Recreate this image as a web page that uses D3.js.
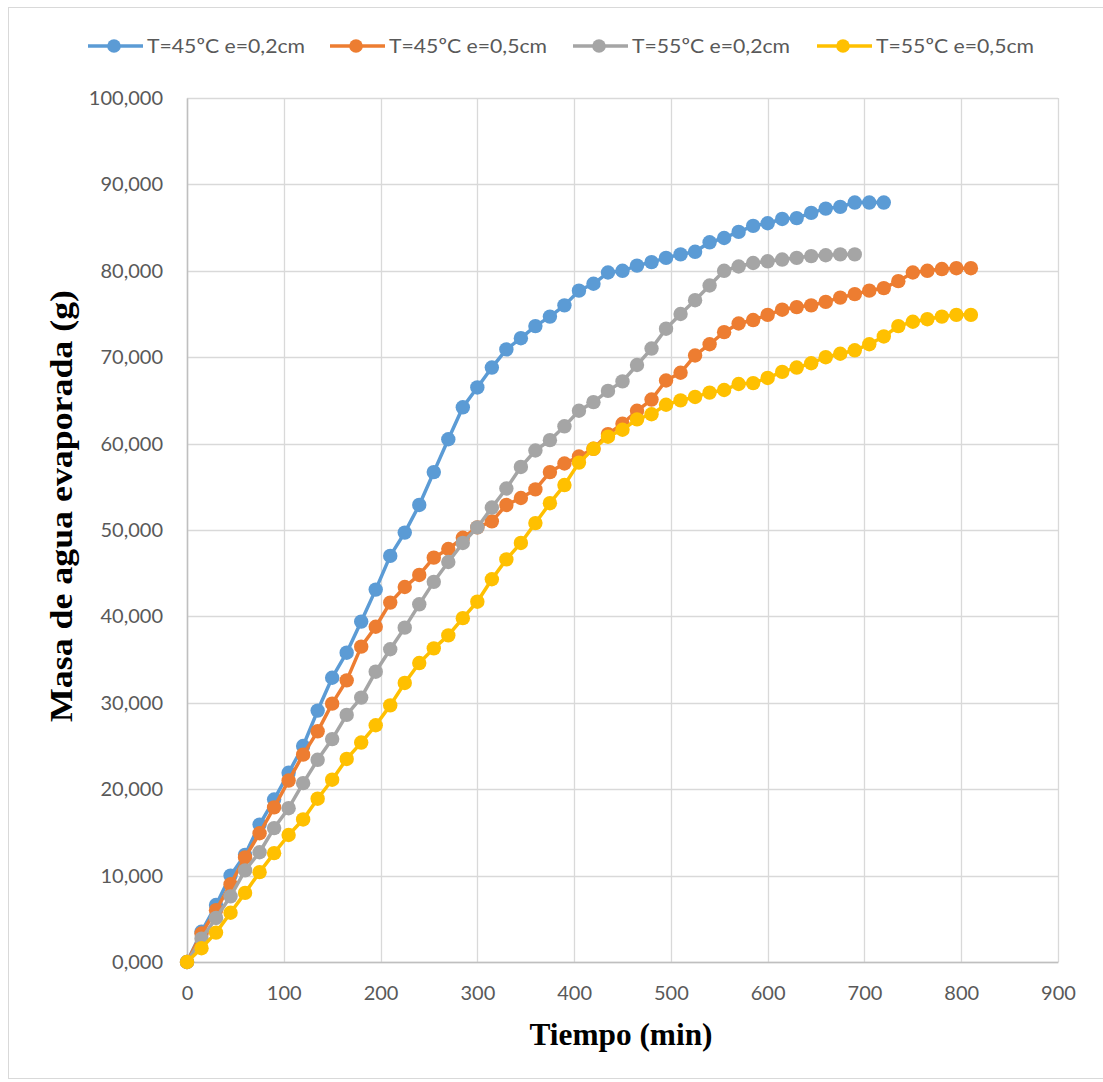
<!DOCTYPE html>
<html>
<head>
<meta charset="utf-8">
<script src="https://cdn.jsdelivr.net/npm/d3@7"></script>
<style>
  html, body { margin: 0; padding: 0; background: #fff; }
  svg { display: block; }
</style>
</head>
<body>
<svg id="chart" width="1103" height="1082"></svg>
<script>
// ---- Data ----
const seriesNames = ["T=45ºC e=0,2cm", "T=45ºC e=0,5cm", "T=55ºC e=0,2cm", "T=55ºC e=0,5cm"];
const seriesColors = ["#5B9BD5", "#ED7D31", "#A5A5A5", "#FFC000"];
const timeStep = 15; // min between readings
const blue = [0, 3.5, 6.6, 10.0, 12.4, 15.9, 18.8, 21.9, 25.0, 29.1, 32.9, 35.8, 39.4, 43.1, 47.0, 49.7, 52.9, 56.7, 60.5, 64.2, 66.5, 68.8, 70.9, 72.2, 73.6, 74.7, 76.0, 77.7, 78.5, 79.8, 80.0, 80.6, 81.0, 81.5, 81.9, 82.2, 83.3, 83.8, 84.5, 85.2, 85.5, 86.0, 86.1, 86.7, 87.2, 87.4, 87.9, 87.9, 87.9];
const orange = [0, 3.3, 6.0, 9.0, 12.1, 14.9, 17.9, 21.0, 24.0, 26.7, 29.9, 32.6, 36.5, 38.8, 41.6, 43.4, 44.8, 46.8, 47.8, 49.1, 50.3, 51.0, 52.9, 53.7, 54.7, 56.7, 57.7, 58.5, 59.4, 61.1, 62.3, 63.8, 65.1, 67.3, 68.2, 70.2, 71.5, 72.9, 73.9, 74.3, 74.9, 75.5, 75.8, 76.0, 76.4, 76.9, 77.3, 77.7, 78.0, 78.8, 79.8, 80.0, 80.2, 80.3, 80.3];
const gray = [0, 2.7, 5.1, 7.6, 10.6, 12.7, 15.5, 17.8, 20.7, 23.4, 25.8, 28.6, 30.6, 33.6, 36.2, 38.7, 41.4, 44.0, 46.3, 48.5, 50.3, 52.6, 54.8, 57.3, 59.2, 60.4, 62.0, 63.8, 64.8, 66.1, 67.2, 69.1, 71.0, 73.3, 75.0, 76.6, 78.3, 80.0, 80.5, 80.9, 81.1, 81.3, 81.5, 81.7, 81.8, 81.9, 81.9];
const yellow = [0, 1.6, 3.4, 5.7, 8.0, 10.4, 12.6, 14.7, 16.5, 18.9, 21.1, 23.5, 25.4, 27.4, 29.7, 32.3, 34.6, 36.3, 37.8, 39.8, 41.7, 44.3, 46.6, 48.5, 50.8, 53.1, 55.2, 57.8, 59.4, 60.8, 61.6, 62.8, 63.4, 64.5, 65.0, 65.4, 65.9, 66.2, 66.9, 67.0, 67.6, 68.3, 68.8, 69.3, 70.0, 70.4, 70.8, 71.5, 72.4, 73.6, 74.1, 74.4, 74.7, 74.9, 74.9];
const xTicks = [0, 100, 200, 300, 400, 500, 600, 700, 800, 900];
const yTicks = [0, 10, 20, 30, 40, 50, 60, 70, 80, 90, 100];
const xTitle = "Tiempo (min)";
const yTitle = "Masa de agua evaporada (g)";

const allSeries = [blue, orange, gray, yellow].map((vals, i) => ({
  name: seriesNames[i],
  color: seriesColors[i],
  points: vals.map((v, j) => ({ t: j * timeStep, m: v }))
}));

// ---- Layout ----
const svg = d3.select("#chart");
const pLeft = 187, pRight = 1058, pTop = 98, pBottom = 962;
const x = d3.scaleLinear().domain([0, 900]).range([pLeft, pRight]);
const y = d3.scaleLinear().domain([0, 100]).range([pBottom, pTop]);
const fmtY = v => d3.format(".3f")(v).replace(".", ",");

// outer frame
svg.append("rect").attr("x", 8.5).attr("y", 7.5).attr("width", 1200).attr("height", 1071)
  .attr("fill", "none").attr("stroke", "#d9d9d9").attr("stroke-width", 1);

// gridlines
svg.append("g").selectAll("line").data(yTicks).join("line")
  .attr("x1", pLeft).attr("x2", pRight)
  .attr("y1", d => Math.round(y(d)) + 0.5).attr("y2", d => Math.round(y(d)) + 0.5)
  .attr("stroke", "#d9d9d9").attr("stroke-width", 1.3);
svg.append("g").selectAll("line").data(xTicks).join("line")
  .attr("y1", pTop).attr("y2", pBottom)
  .attr("x1", d => Math.round(x(d)) + 0.5).attr("x2", d => Math.round(x(d)) + 0.5)
  .attr("stroke", "#d9d9d9").attr("stroke-width", 1.3);

// axes via d3
const yAxis = d3.axisLeft(y).tickValues(yTicks).tickFormat(fmtY).tickSize(0).tickPadding(24);
const gy = svg.append("g").attr("transform", `translate(${pLeft},0)`).call(yAxis);
const xAxis = d3.axisBottom(x).tickValues(xTicks).tickFormat(d3.format("d")).tickSize(0).tickPadding(24);
const gx = svg.append("g").attr("transform", `translate(0,${pBottom})`).call(xAxis);
[gx, gy].forEach(g => {
  g.select(".domain").attr("stroke", "#bfbfbf").attr("stroke-width", 1.5);
  g.selectAll("text").attr("fill", "#595959").style("font-family", "Lato, 'Open Sans', sans-serif").style("font-size", "20px");
});

// lines and markers
const line = d3.line().x(d => x(d.t)).y(d => y(d.m));
const gSeries = svg.append("g");
allSeries.forEach(s => {
  gSeries.append("path").datum(s.points).attr("d", line)
    .attr("fill", "none").attr("stroke", s.color).attr("stroke-width", 3.5).attr("stroke-linejoin", "round");
  gSeries.append("g").selectAll("circle").data(s.points).join("circle")
    .attr("cx", d => x(d.t)).attr("cy", d => y(d.m)).attr("r", 7.2)
    .attr("fill", s.color);
});

// legend
const legendX = [88, 330, 573, 817];
const legend = svg.append("g");
allSeries.forEach((s, i) => {
  const lx = legendX[i], ly = 46;
  legend.append("line").attr("x1", lx).attr("x2", lx + 55).attr("y1", ly).attr("y2", ly)
    .attr("stroke", s.color).attr("stroke-width", 3.5);
  legend.append("circle").attr("cx", lx + 26).attr("cy", ly).attr("r", 6.8).attr("fill", s.color);
  legend.append("text").attr("x", lx + 59).attr("y", ly + 7)
    .attr("fill", "#595959").style("font-family", "Lato, 'Open Sans', sans-serif").style("font-size", "20px")
    .attr("textLength", 158).attr("lengthAdjust", "spacingAndGlyphs")
    .text(s.name);
});

// axis titles
svg.append("text").attr("x", 621).attr("y", 1045).attr("text-anchor", "middle")
  .style("font-family", "'Liberation Serif', 'Times New Roman', serif").style("font-weight", "bold").style("font-size", "31px")
  .attr("textLength", 183).attr("lengthAdjust", "spacingAndGlyphs")
  .attr("fill", "#000").text(xTitle);
svg.append("text").attr("transform", "translate(72,506) rotate(-90)").attr("text-anchor", "middle")
  .style("font-family", "'Liberation Serif', 'Times New Roman', serif").style("font-weight", "bold").style("font-size", "32px")
  .attr("textLength", 432).attr("lengthAdjust", "spacingAndGlyphs")
  .attr("fill", "#000").text(yTitle);
</script>
</body>
</html>
